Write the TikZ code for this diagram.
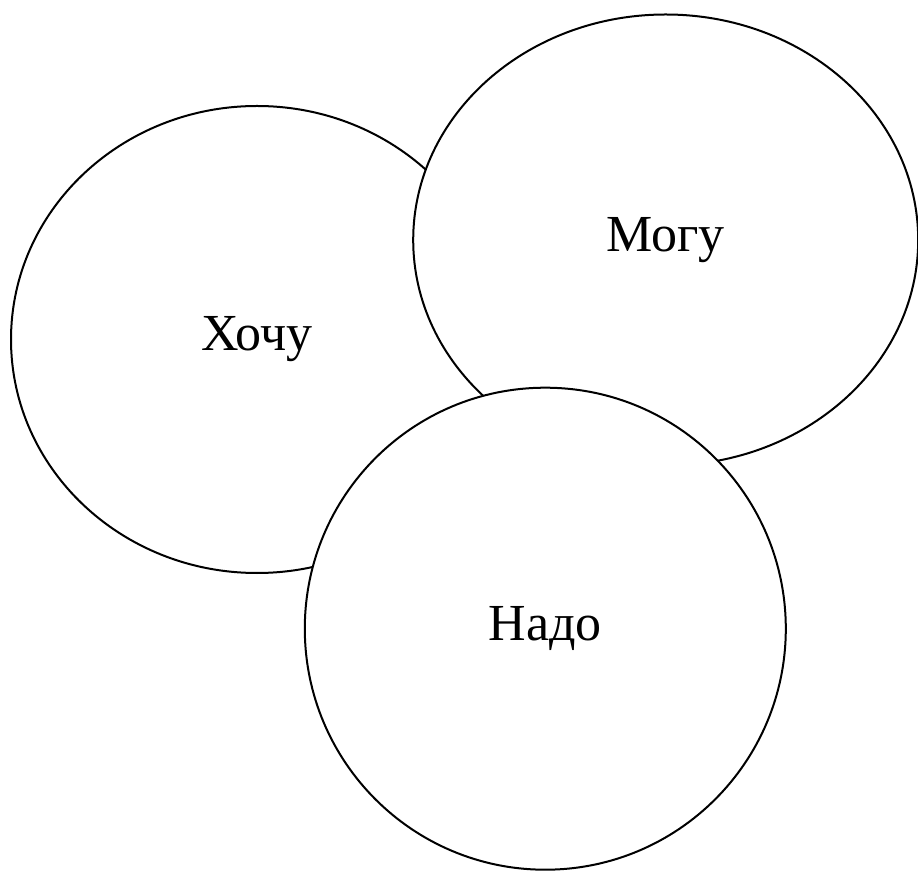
\documentclass[tikz,border=0pt]{standalone}
\usepackage{fontspec}
\setmainfont{Liberation Serif}
\usetikzlibrary{shapes.geometric}
\tikzset{
    % Base bubble style
    bubble/.style={
        ellipse,
        draw=black,
        fill=white,
        line width=2pt,
        inner sep=0pt,
        font=\fontsize{52}{60}\selectfont
    }
}
\begin{document}
\begin{tikzpicture}[x=1pt, y=1pt]

    \useasboundingbox (0,0) rectangle (918,871);

    % --- Want (left, lowest layer) ---
    \node (want) [bubble, minimum width=492pt, minimum height=467pt] at (257,531.5) {Хочу};

    % --- Can (top right) ---
    \node (can) [bubble, minimum width=505pt, minimum height=451pt] at (665.7,631) {Могу};

    % --- Must (bottom, on top) ---
    \node (must) [bubble, minimum width=481pt, minimum height=482pt] at (545.3,242.3) {Надо};

\end{tikzpicture}
\end{document}
